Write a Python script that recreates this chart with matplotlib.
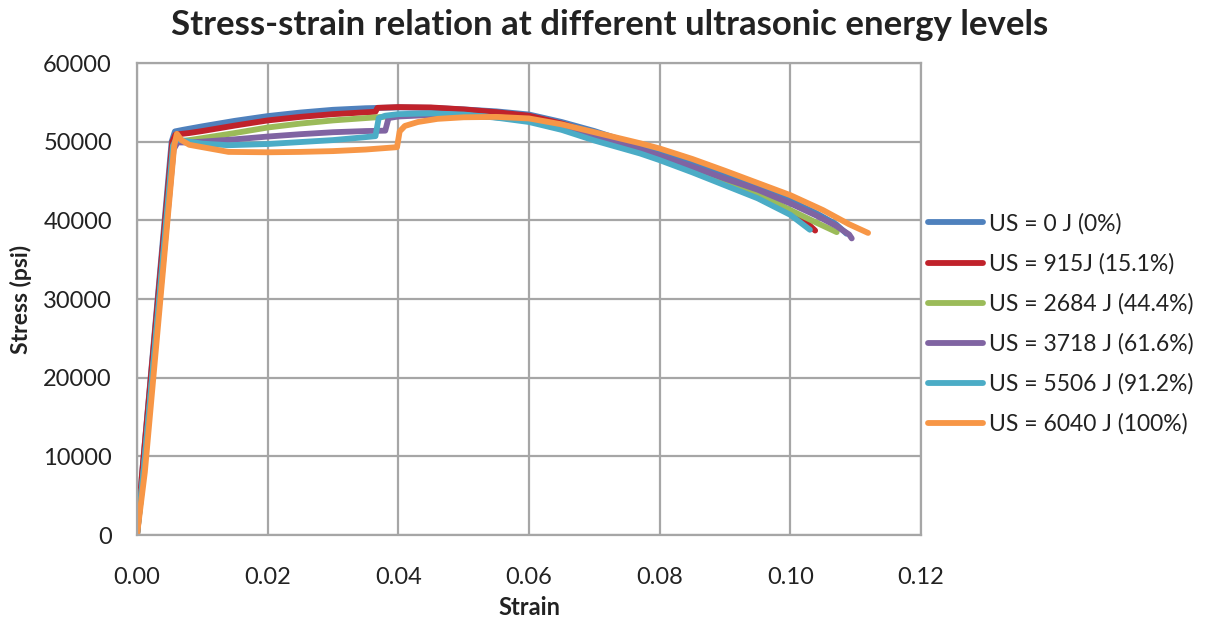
# Stress-strain curves at different ultrasonic energy levels

import matplotlib
matplotlib.use('Agg')
import matplotlib.pyplot as plt
from matplotlib.ticker import FormatStrFormatter

plt.rcParams['font.family'] = ['Lato', 'DejaVu Sans']

# Series labels and colours
labels = ['US = 0 J (0%)', 'US = 915J (15.1%)', 'US = 2684 J (44.4%)',
          'US = 3718 J (61.6%)', 'US = 5506 J (91.2%)', 'US = 6040 J (100%)']
colors = ['#4F81BD', '#C0222B', '#9BBB59', '#8064A2', '#4BACC6', '#F79646']

# Strain / stress (psi) points
strain_0 = [0, 0.0008, 0.0053, 0.0058, 0.007, 0.010, 0.015, 0.020, 0.025, 0.030, 0.035, 0.040,
            0.045, 0.050, 0.055, 0.060, 0.065, 0.070, 0.075, 0.080, 0.085, 0.090, 0.095,
            0.100, 0.104, 0.107, 0.1086]
stress_0 = [0, 8000, 50000, 51300, 51500, 51950, 52650, 53250, 53700, 54050, 54250, 54350,
            54300, 54100, 53850, 53450, 52500, 51350, 50000, 48600, 47150, 45650, 44150,
            42500, 40900, 39500, 38300]

strain_915 = [0, 0.0008, 0.0054, 0.0059, 0.008, 0.010, 0.015, 0.020, 0.025, 0.030, 0.0365,
              0.0368, 0.040, 0.045, 0.050, 0.055, 0.060, 0.065, 0.070, 0.075, 0.080, 0.085,
              0.090, 0.095, 0.100, 0.1025, 0.1038]
stress_915 = [0, 8000, 50000, 50900, 51100, 51350, 52050, 52700, 53150, 53500, 53800,
              54300, 54400, 54350, 54100, 53750, 53300, 52300, 51000, 49550, 48000, 46400,
              44700, 42900, 40900, 39700, 38700]

strain_2684 = [0, 0.001, 0.0056, 0.006, 0.008, 0.010, 0.015, 0.020, 0.025, 0.030, 0.035,
               0.040, 0.045, 0.050, 0.055, 0.060, 0.065, 0.070, 0.075, 0.080, 0.085, 0.090,
               0.095, 0.100, 0.104, 0.1071]
stress_2684 = [0, 8000, 49500, 50000, 50200, 50450, 51100, 51800, 52300, 52700, 53000,
               53300, 53450, 53350, 53100, 52800, 52000, 50800, 49450, 48050, 46550, 45000,
               43450, 41300, 39700, 38500]

strain_3718 = [0, 0.001, 0.0056, 0.0062, 0.008, 0.010, 0.015, 0.020, 0.025, 0.030, 0.035,
               0.038, 0.0385, 0.040, 0.045, 0.050, 0.055, 0.060, 0.065, 0.070, 0.075, 0.080,
               0.085, 0.090, 0.095, 0.100, 0.104, 0.107, 0.109, 0.1094]
stress_3718 = [0, 8000, 49000, 49900, 49900, 50000, 50300, 50650, 50950, 51200, 51350,
               51400, 53000, 53200, 53400, 53350, 53100, 52700, 51900, 50800, 49600, 48200,
               46800, 45300, 43900, 42150, 40600, 39300, 38200, 37700]

strain_5506 = [0, 0.001, 0.0055, 0.006, 0.008, 0.010, 0.014, 0.020, 0.025, 0.030, 0.034,
               0.0365, 0.037, 0.038, 0.040, 0.045, 0.050, 0.055, 0.060, 0.065, 0.070, 0.077,
               0.080, 0.085, 0.090, 0.095, 0.100, 0.103]
stress_5506 = [0, 8000, 49500, 50300, 50000, 49750, 49550, 49700, 49950, 50200, 50500,
               50700, 53000, 53300, 53500, 53600, 53450, 53050, 52500, 51500, 50150, 48500,
               47650, 46100, 44450, 42800, 40700, 38800]

strain_6040 = [0, 0.0012, 0.0057, 0.0061, 0.0068, 0.008, 0.011, 0.014, 0.020, 0.025, 0.030,
               0.035, 0.0398, 0.0402, 0.041, 0.043, 0.046, 0.050, 0.055, 0.060, 0.065, 0.070,
               0.077, 0.080, 0.085, 0.090, 0.095, 0.100, 0.105, 0.109, 0.1119]
stress_6040 = [0, 8000, 49500, 51000, 50200, 49600, 49150, 48700, 48650, 48700, 48800,
               49000, 49300, 51300, 52000, 52500, 52900, 53100, 53150, 52950, 52200, 51200,
               49800, 49130, 47800, 46300, 44750, 43200, 41300, 39500, 38400]

strains = [strain_0, strain_915, strain_2684, strain_3718, strain_5506, strain_6040]
stresses = [stress_0, stress_915, stress_2684, stress_3718, stress_5506, stress_6040]

fig = plt.figure(figsize=(12.06, 6.2), dpi=100)
ax = fig.add_axes([137 / 1206, 85 / 620, 784 / 1206, 472 / 620])

for x, y, lab, col in zip(strains, stresses, labels, colors):
    ax.plot(x, y, color=col, lw=4.2, label=lab, solid_capstyle='round', solid_joinstyle='round')

ax.set_xlim(0, 0.12)
ax.set_ylim(0, 60000)
ax.set_xticks([0, 0.02, 0.04, 0.06, 0.08, 0.10, 0.12])
ax.set_yticks(range(0, 60001, 10000))
ax.xaxis.set_major_formatter(FormatStrFormatter('%.2f'))
ax.tick_params(length=0, labelsize=17, colors='#222222')
ax.tick_params(axis='x', pad=23)
ax.tick_params(axis='y', pad=18)

ax.grid(True, color='#a6a6a6', lw=1.6)
ax.set_axisbelow(True)
for s in ax.spines.values():
    s.set_color('#a6a6a6')
    s.set_linewidth(1.6)

# title is centred on the figure rather than the plot area
ax.set_title('Stress-strain relation at different ultrasonic energy levels',
             fontsize=25, fontweight='bold', color='#222222', pad=20.5, x=0.603)
ax.set_xlabel('Strain', fontsize=17, fontweight='bold', color='#222222', labelpad=6)
ax.set_ylabel('Stress (psi)', fontsize=16.5, fontweight='bold', color='#222222', labelpad=8)

ax.legend(loc='upper left', bbox_to_anchor=(928 / 1206, 1 - 213 / 620),
          bbox_transform=fig.transFigure, frameon=False, fontsize=16.5,
          handlelength=2.4, handletextpad=0.25, labelspacing=0.81,
          borderpad=0, borderaxespad=0, labelcolor='#222222')

fig.savefig('out.png', dpi=100)
